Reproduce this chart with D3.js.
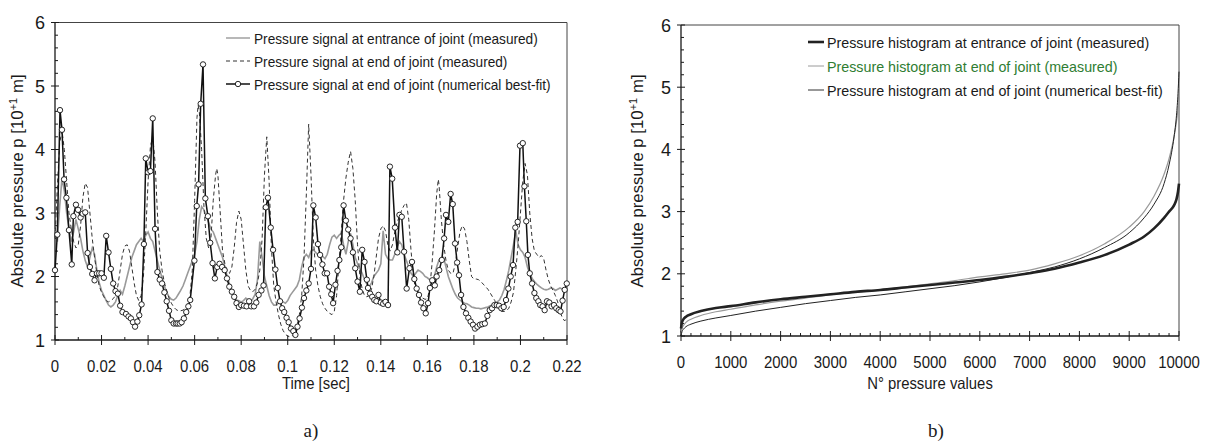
<!DOCTYPE html>
<html><head><meta charset="utf-8">
<script src="https://cdn.jsdelivr.net/npm/d3@7"></script>
<style>
body{margin:0;background:#fff;}
svg text{font-family:"Liberation Sans",Arial,sans-serif;fill:#1a1a1a;}
</style></head>
<body><svg id="c" width="1205" height="444"></svg>
<script>
// ---------- DATA ----------
const timeTicks = [0,0.02,0.04,0.06,0.08,0.1,0.12,0.14,0.16,0.18,0.2,0.22];
const pTicks = [1,2,3,4,5,6];
const countTicks = [0,1000,2000,3000,4000,5000,6000,7000,8000,9000,10000];
const legendA = ["Pressure signal at entrance of joint (measured)","Pressure signal at end of joint (measured)","Pressure signal at end of joint (numerical best-fit)"];
const legendB = ["Pressure histogram at entrance of joint (measured)","Pressure histogram at end of joint (measured)","Pressure histogram at end of joint (numerical best-fit)"];

// entrance measured [t, p]
const entrance = [[0,2.75],[0.001,2.55],[0.002,3.1],[0.003,3.55],[0.004,3.35],[0.005,3.0],[0.006,2.75],[0.007,2.55],[0.008,2.7],[0.009,2.9],[0.010,2.75],[0.011,2.6],[0.012,2.4],[0.013,2.25],[0.014,2.15],[0.015,2.3],[0.016,2.45],[0.017,2.35],[0.018,2.1],[0.019,1.9],[0.020,1.78],[0.021,1.7],[0.022,1.62],[0.023,1.55],[0.024,1.52],[0.025,1.55],[0.026,1.6],[0.027,1.7],[0.028,1.78],[0.029,1.72],[0.030,1.85],[0.031,2.0],[0.032,2.15],[0.033,2.3],[0.034,2.4],[0.035,2.5],[0.036,2.55],[0.037,2.6],[0.038,2.55],[0.039,2.65],[0.040,2.7],[0.041,2.6],[0.042,2.55],[0.043,2.4],[0.044,2.25],[0.045,2.1],[0.046,1.98],[0.047,1.85],[0.048,1.75],[0.049,1.68],[0.050,1.64],[0.051,1.63],[0.052,1.66],[0.053,1.72],[0.054,1.78],[0.055,1.85],[0.056,1.95],[0.057,2.05],[0.058,2.15],[0.059,2.25],[0.060,2.35],[0.061,2.55],[0.062,2.9],[0.063,3.1],[0.064,3.05],[0.065,2.95],[0.066,2.85],[0.067,2.75],[0.068,2.7],[0.069,2.6],[0.070,2.5],[0.071,2.4],[0.072,2.3],[0.073,2.15],[0.074,2.0],[0.075,1.88],[0.076,1.75],[0.077,1.68],[0.078,1.63],[0.079,1.62],[0.080,1.6],[0.081,1.62],[0.082,1.66],[0.083,1.63],[0.084,1.6],[0.085,1.65],[0.086,1.72],[0.087,1.95],[0.088,2.55],[0.089,2.3],[0.090,2.0],[0.091,1.85],[0.092,1.7],[0.093,1.6],[0.094,1.55],[0.095,1.55],[0.096,1.58],[0.097,1.62],[0.098,1.6],[0.099,1.58],[0.100,1.62],[0.101,1.7],[0.102,1.75],[0.103,1.8],[0.104,1.85],[0.105,1.95],[0.106,2.15],[0.107,2.3],[0.108,2.35],[0.109,2.3],[0.110,2.4],[0.111,2.42],[0.112,2.38],[0.113,2.34],[0.114,2.3],[0.115,2.32],[0.116,2.28],[0.117,2.35],[0.118,2.5],[0.119,2.62],[0.120,2.65],[0.121,2.6],[0.122,2.65],[0.123,2.68],[0.124,2.5],[0.125,2.35],[0.126,2.55],[0.127,2.68],[0.128,2.5],[0.129,2.3],[0.130,2.2],[0.131,2.12],[0.132,2.05],[0.133,1.95],[0.134,1.88],[0.135,1.84],[0.136,1.9],[0.137,2.0],[0.138,2.05],[0.139,2.1],[0.140,2.2],[0.141,2.72],[0.142,2.35],[0.143,2.28],[0.144,2.26],[0.145,2.26],[0.146,2.35],[0.147,2.47],[0.148,2.55],[0.149,2.5],[0.150,2.35],[0.151,2.25],[0.152,2.15],[0.153,2.05],[0.154,2.0],[0.155,2.05],[0.156,2.1],[0.157,2.08],[0.158,2.05],[0.159,2.0],[0.160,1.98],[0.161,1.95],[0.162,1.94],[0.163,2.0],[0.164,2.15],[0.165,2.26],[0.166,2.28],[0.167,2.3],[0.168,2.15],[0.169,2.0],[0.170,1.9],[0.171,1.8],[0.172,1.72],[0.173,1.66],[0.174,1.63],[0.175,1.6],[0.176,1.58],[0.177,1.57],[0.178,1.55],[0.179,1.52],[0.180,1.51],[0.181,1.5],[0.182,1.5],[0.183,1.49],[0.184,1.5],[0.185,1.51],[0.186,1.52],[0.187,1.54],[0.188,1.55],[0.189,1.57],[0.190,1.6],[0.191,1.63],[0.192,1.7],[0.193,1.8],[0.194,1.94],[0.195,2.1],[0.196,2.3],[0.197,2.5],[0.198,2.72],[0.199,2.5],[0.200,2.42],[0.201,2.38],[0.202,2.3],[0.203,2.15],[0.204,2.05],[0.205,1.97],[0.206,1.92],[0.207,1.88],[0.208,1.85],[0.209,1.82],[0.210,1.8],[0.211,1.79],[0.212,1.8],[0.213,1.82],[0.214,1.81],[0.215,1.78],[0.216,1.8],[0.217,1.82],[0.218,1.8],[0.219,1.82],[0.220,1.84]];

// end of joint measured [t, p]
const endMeasured = [[0,2.6],[0.001,3.4],[0.002,4.1],[0.003,4.3],[0.004,4.0],[0.005,3.5],[0.006,3.0],[0.007,2.75],[0.008,2.55],[0.009,2.45],[0.010,2.5],[0.011,2.8],[0.012,3.25],[0.013,3.47],[0.014,3.4],[0.015,3.0],[0.016,2.6],[0.017,2.3],[0.018,2.05],[0.019,1.85],[0.020,1.75],[0.021,1.68],[0.022,1.62],[0.023,1.6],[0.024,1.62],[0.025,1.65],[0.026,1.7],[0.027,1.85],[0.028,2.1],[0.029,2.35],[0.030,2.48],[0.031,2.5],[0.032,2.4],[0.033,2.15],[0.034,1.9],[0.035,1.7],[0.036,1.62],[0.037,1.7],[0.038,2.0],[0.039,2.7],[0.040,3.5],[0.041,4.05],[0.042,4.2],[0.043,3.8],[0.044,3.0],[0.045,2.4],[0.046,2.1],[0.047,1.9],[0.048,1.78],[0.049,1.66],[0.050,1.58],[0.051,1.52],[0.052,1.48],[0.053,1.46],[0.054,1.46],[0.055,1.47],[0.056,1.5],[0.057,1.56],[0.058,1.7],[0.059,2.1],[0.060,3.2],[0.061,4.5],[0.0615,4.7],[0.062,4.6],[0.063,4.0],[0.064,3.1],[0.065,2.6],[0.066,2.45],[0.067,2.6],[0.068,3.2],[0.069,3.6],[0.0695,3.7],[0.070,3.6],[0.071,3.0],[0.072,2.4],[0.073,2.2],[0.074,2.08],[0.075,2.05],[0.076,2.15],[0.077,2.45],[0.078,2.85],[0.079,3.03],[0.080,2.9],[0.081,2.5],[0.082,2.1],[0.083,1.85],[0.084,1.78],[0.085,1.76],[0.086,1.8],[0.087,1.9],[0.088,2.1],[0.089,2.6],[0.090,3.6],[0.091,4.2],[0.092,3.5],[0.093,2.45],[0.094,1.85],[0.095,1.6],[0.096,1.4],[0.097,1.25],[0.098,1.15],[0.099,1.09],[0.100,1.06],[0.101,1.05],[0.102,1.07],[0.103,1.12],[0.104,1.22],[0.105,1.4],[0.106,1.7],[0.107,2.3],[0.108,3.3],[0.109,4.4],[0.110,3.6],[0.111,2.6],[0.112,2.1],[0.113,1.85],[0.114,1.68],[0.115,1.57],[0.116,1.5],[0.117,1.45],[0.118,1.42],[0.119,1.4],[0.120,1.45],[0.121,1.7],[0.122,2.2],[0.123,2.7],[0.124,3.2],[0.125,3.55],[0.126,3.8],[0.127,3.97],[0.128,3.7],[0.129,3.2],[0.130,2.5],[0.131,2.0],[0.132,1.8],[0.133,1.7],[0.134,1.68],[0.135,1.7],[0.136,1.8],[0.137,2.0],[0.138,2.3],[0.139,2.6],[0.140,2.75],[0.141,2.8],[0.142,2.72],[0.143,2.5],[0.144,2.4],[0.145,2.5],[0.146,2.7],[0.147,2.85],[0.148,2.95],[0.149,3.05],[0.150,3.12],[0.151,3.16],[0.152,2.9],[0.153,2.4],[0.154,2.0],[0.155,1.78],[0.156,1.7],[0.157,1.68],[0.158,1.66],[0.159,1.64],[0.160,1.65],[0.161,1.8],[0.162,2.2],[0.163,2.7],[0.164,3.3],[0.1647,3.53],[0.165,3.45],[0.166,2.9],[0.167,2.5],[0.168,2.25],[0.169,2.1],[0.170,2.05],[0.171,2.05],[0.172,2.2],[0.173,2.45],[0.174,2.7],[0.175,2.8],[0.176,2.75],[0.177,2.55],[0.178,2.25],[0.179,2.0],[0.180,1.96],[0.181,1.96],[0.182,1.95],[0.183,1.92],[0.184,1.88],[0.185,1.84],[0.186,1.8],[0.187,1.74],[0.188,1.68],[0.189,1.62],[0.190,1.52],[0.191,1.47],[0.192,1.45],[0.193,1.45],[0.194,1.46],[0.195,1.5],[0.196,1.6],[0.197,1.75],[0.198,2.1],[0.199,2.5],[0.200,3.0],[0.201,3.5],[0.202,3.78],[0.203,3.6],[0.204,3.0],[0.205,2.6],[0.206,2.4],[0.207,2.35],[0.208,2.3],[0.209,2.33],[0.210,2.28],[0.211,2.1],[0.212,1.95],[0.213,1.85],[0.214,1.78],[0.215,1.7],[0.216,1.6],[0.217,1.45],[0.218,1.35],[0.219,1.3],[0.220,1.35]];

// numerical best-fit [t, p]
const bestFit = [[0,2.1],[0.001,2.66],[0.00215,4.62],[0.003,4.31],[0.0039,3.53],[0.0049,3.24],[0.006,2.73],[0.0072,2.19],[0.0079,2.95],[0.009,3.13],[0.0099,3.05],[0.011,2.93],[0.0119,2.99],[0.013,3.01],[0.014,2.37],[0.015,2.15],[0.016,2.04],[0.017,1.94],[0.018,2.05],[0.019,2.05],[0.020,2.05],[0.021,1.98],[0.022,2.64],[0.023,2.38],[0.024,2.12],[0.025,1.89],[0.026,1.77],[0.027,1.73],[0.028,1.54],[0.029,1.44],[0.0305,1.41],[0.0316,1.37],[0.0326,1.34],[0.0335,1.28],[0.0344,1.21],[0.0354,1.29],[0.0362,1.39],[0.0372,1.56],[0.0382,2.51],[0.039,3.86],[0.040,3.64],[0.041,3.66],[0.042,4.49],[0.043,2.75],[0.044,2.07],[0.045,1.95],[0.046,1.89],[0.047,1.75],[0.048,1.61],[0.049,1.46],[0.050,1.31],[0.051,1.26],[0.052,1.26],[0.0527,1.26],[0.0536,1.26],[0.0544,1.28],[0.0554,1.34],[0.0564,1.44],[0.0573,1.53],[0.0581,1.63],[0.0599,2.25],[0.0609,3.11],[0.0617,3.45],[0.0626,4.72],[0.0636,5.34],[0.0646,3.23],[0.0657,2.95],[0.0667,2.53],[0.0677,2.21],[0.0687,1.97],[0.0697,2.15],[0.0707,2.2],[0.0718,2.15],[0.0729,2.1],[0.0739,1.97],[0.0749,1.84],[0.076,1.76],[0.077,1.68],[0.078,1.58],[0.079,1.52],[0.080,1.55],[0.0812,1.54],[0.0823,1.53],[0.0834,1.61],[0.0843,1.53],[0.0855,1.53],[0.0865,1.59],[0.0875,1.71],[0.0887,1.78],[0.0896,1.86],[0.0906,3.09],[0.0915,3.24],[0.0927,2.77],[0.0937,2.42],[0.0947,2.11],[0.0957,1.82],[0.0967,1.61],[0.0976,1.5],[0.0985,1.44],[0.0995,1.35],[0.1004,1.28],[0.1014,1.18],[0.1024,1.14],[0.1033,1.08],[0.1042,1.21],[0.1051,1.34],[0.1061,1.51],[0.107,1.66],[0.108,1.78],[0.109,1.89],[0.110,2.12],[0.111,3.12],[0.112,2.93],[0.113,2.51],[0.1139,2.34],[0.1149,2.19],[0.1159,2.05],[0.1169,2.05],[0.1178,1.84],[0.1187,1.72],[0.1195,1.58],[0.1205,1.87],[0.1214,2.09],[0.1222,2.26],[0.123,2.46],[0.124,3.12],[0.125,2.88],[0.126,2.74],[0.127,2.6],[0.128,2.38],[0.129,2.13],[0.130,1.92],[0.131,1.76],[0.132,2.42],[0.133,2.23],[0.134,1.95],[0.1345,1.82],[0.1354,1.73],[0.1363,1.68],[0.1372,1.63],[0.1381,1.61],[0.139,1.71],[0.140,1.59],[0.141,1.57],[0.142,1.6],[0.1431,1.55],[0.1439,3.73],[0.1449,3.54],[0.1461,2.77],[0.1471,2.38],[0.148,2.97],[0.149,2.94],[0.150,2.39],[0.1511,1.81],[0.1523,2.13],[0.1534,2.23],[0.1544,1.96],[0.1554,1.81],[0.1564,1.71],[0.1573,1.59],[0.1583,1.5],[0.1593,1.42],[0.1603,1.58],[0.1611,1.82],[0.1621,1.94],[0.1632,1.86],[0.164,2.0],[0.1651,2.1],[0.1662,2.26],[0.1672,2.6],[0.168,2.97],[0.169,2.86],[0.170,3.3],[0.1709,3.14],[0.1719,2.52],[0.1728,2.22],[0.1736,2.02],[0.1745,1.71],[0.1755,1.52],[0.1766,1.42],[0.1776,1.35],[0.1786,1.29],[0.1796,1.24],[0.1805,1.18],[0.1815,1.21],[0.1826,1.24],[0.1836,1.25],[0.1847,1.26],[0.1858,1.38],[0.1868,1.47],[0.1878,1.5],[0.1888,1.55],[0.1898,1.55],[0.1908,1.54],[0.1918,1.5],[0.1928,1.52],[0.1938,1.63],[0.1948,1.81],[0.1958,2.0],[0.1968,2.18],[0.1978,2.77],[0.1988,2.86],[0.1998,4.06],[0.201,4.1],[0.2017,3.42],[0.2025,2.87],[0.2032,2.34],[0.204,2.05],[0.205,1.89],[0.206,1.74],[0.2068,1.66],[0.2077,1.61],[0.2085,1.55],[0.2095,1.53],[0.2104,1.47],[0.2114,1.61],[0.2124,1.59],[0.2134,1.53],[0.2144,1.55],[0.2154,1.5],[0.2164,1.47],[0.2172,1.45],[0.2181,1.62],[0.219,1.79],[0.2199,1.89]];

// histograms (sorted values) : N° index and pressure
const histN =        [0,   20,  50,  100, 200, 400, 700, 1000,1500,2000,2500,3000,3500,4000,4500,5000,5500,6000,6500,7000,7500,8000,8500,9000,9300,9500,9700,9800,9900,9950,9980,10000];
const histEntrance = [1.12,1.22,1.27,1.31,1.35,1.40,1.45,1.48,1.54,1.59,1.63,1.67,1.71,1.74,1.78,1.82,1.86,1.90,1.95,2.01,2.08,2.18,2.30,2.47,2.60,2.73,2.90,3.00,3.10,3.20,3.32,3.45];
const histEnd =      [1.02,1.12,1.17,1.22,1.27,1.33,1.39,1.43,1.50,1.56,1.61,1.66,1.70,1.74,1.79,1.84,1.89,1.95,2.00,2.06,2.16,2.29,2.48,2.75,3.00,3.25,3.60,3.85,4.20,4.45,4.65,4.85];
const histFit =      [1.00,1.07,1.11,1.15,1.19,1.24,1.29,1.33,1.40,1.46,1.52,1.57,1.62,1.66,1.71,1.76,1.81,1.87,1.94,2.02,2.11,2.24,2.42,2.66,2.90,3.12,3.45,3.75,4.20,4.55,4.90,5.25];

// ---------- DRAW ----------
const svg = d3.select("#c");
const ink = "#1a1a1a";

// narrow the glyphs of a text selection horizontally (the reference font is condensed)
function condense(sel, f){
  sel.each(function(){
    const L = this.getComputedTextLength();
    d3.select(this).attr("textLength", L*f).attr("lengthAdjust","spacingAndGlyphs");
  });
  return sel;
}

function frame(g, x, y, xTicks, xMinor, yMinor, fmt){
  const [x0,x1] = x.range(), [y0,y1] = y.range();
  g.append("path").attr("d",`M${x0},${y1}H${x1}V${y0}`).attr("fill","none").attr("stroke","#444").attr("stroke-width",1);
  g.append("line").attr("x1",x0).attr("x2",x1).attr("y1",y0).attr("y2",y0).attr("stroke",ink).attr("stroke-width",1.3);
  g.append("line").attr("x1",x0).attr("x2",x0).attr("y1",y0).attr("y2",y1).attr("stroke",ink).attr("stroke-width",1.3);
  g.selectAll(null).data(xMinor).join("line").attr("x1",d=>x(d)).attr("x2",d=>x(d)).attr("y1",y0-3).attr("y2",y0).attr("stroke",ink);
  g.selectAll(null).data(xTicks).join("line").attr("x1",d=>x(d)).attr("x2",d=>x(d)).attr("y1",y0-5).attr("y2",y0+5).attr("stroke",ink);
  condense(g.selectAll(null).data(xTicks).join("text").attr("x",d=>x(d)).attr("y",y0+32).attr("text-anchor","middle").style("font-size","17px").text(fmt), 0.88);
  g.selectAll(null).data(yMinor).join("line").attr("x1",x0).attr("x2",x0+3).attr("y1",d=>y(d)).attr("y2",d=>y(d)).attr("stroke",ink);
  g.selectAll(null).data(pTicks).join("line").attr("x1",x0-4).attr("x2",x0+4).attr("y1",d=>y(d)).attr("y2",d=>y(d)).attr("stroke",ink);
  g.selectAll(null).data(pTicks).join("text").attr("x",x0-10).attr("y",d=>y(d)+6.5).attr("text-anchor","end").style("font-size","18px").text(d=>d);
}

function yLabel(g, cx, cy){
  const t = g.append("text").attr("transform",`translate(${cx},${cy}) rotate(-90)`).attr("text-anchor","middle").style("font-size","16.8px");
  t.append("tspan").text("Absolute pressure p [10");
  t.append("tspan").attr("dy",-6).style("font-size","11px").text("+1");
  t.append("tspan").attr("dy",6).text(" m]");
}

const yMinorVals = d3.range(1,6.001,0.2).filter(v=>Math.abs(v-Math.round(v))>1e-6);

// ----- panel a -----
const xa = d3.scaleLinear().domain([0,0.22]).range([55,567]);
const ya = d3.scaleLinear().domain([1,6]).range([340,22.5]);
const ga = svg.append("g");
frame(ga, xa, ya, timeTicks, d3.range(0.01,0.22,0.02), yMinorVals, d=>d===0?"0":String(+d.toFixed(2)));
yLabel(ga, 23, 181);
condense(ga.append("text").attr("x",316).attr("y",389).attr("text-anchor","middle").style("font-size","16.5px").text("Time [sec]"), 0.9);
ga.append("text").attr("x",311).attr("y",437).attr("text-anchor","middle").style("font-family","'Liberation Serif',serif").style("font-size","19px").text("a)");

const la = d3.line().x(d=>xa(d[0])).y(d=>ya(d[1]));
ga.append("path").datum(entrance).attr("d",la).attr("fill","none").attr("stroke","#9a9a9a").attr("stroke-width",1.6);
ga.append("path").datum(endMeasured).attr("d",la).attr("fill","none").attr("stroke","#333").attr("stroke-width",1).attr("stroke-dasharray","4,3");
ga.append("path").datum(bestFit).attr("d",la).attr("fill","none").attr("stroke","#111").attr("stroke-width",1.5);
ga.selectAll(null).data(bestFit).join("circle").attr("cx",d=>xa(d[0])).attr("cy",d=>ya(d[1])).attr("r",2.7).attr("fill","#fff").attr("stroke","#111").attr("stroke-width",0.9);

// legend a
const legY = [38,61,84];
const lgA = ga.append("g");
lgA.append("line").attr("x1",226).attr("x2",250).attr("y1",legY[0]).attr("y2",legY[0]).attr("stroke","#888").attr("stroke-width",1.2);
lgA.append("line").attr("x1",226).attr("x2",250).attr("y1",legY[1]).attr("y2",legY[1]).attr("stroke","#333").attr("stroke-dasharray","4,3");
lgA.append("line").attr("x1",226).attr("x2",250).attr("y1",legY[2]).attr("y2",legY[2]).attr("stroke","#111").attr("stroke-width",1.5);
lgA.append("circle").attr("cx",238).attr("cy",legY[2]).attr("r",2.7).attr("fill","#fff").attr("stroke","#111").attr("stroke-width",0.9);
condense(lgA.selectAll(null).data(legendA).join("text").attr("x",254).attr("y",(d,i)=>legY[i]+5.5).style("font-size","15px").text(d=>d), 0.91);

// ----- panel b -----
const xb = d3.scaleLinear().domain([0,10000]).range([681,1179]);
const yb = d3.scaleLinear().domain([1,6]).range([336,25]);
const gb = svg.append("g");
frame(gb, xb, yb, countTicks, d3.range(200,10000,200).filter(v=>v%1000!==0), yMinorVals, d=>String(d));
yLabel(gb, 643, 181);
condense(gb.append("text").attr("x",930).attr("y",389).attr("text-anchor","middle").style("font-size","16.5px").text("N° pressure values"), 0.9);
gb.append("text").attr("x",936).attr("y",437).attr("text-anchor","middle").style("font-family","'Liberation Serif',serif").style("font-size","19px").text("b)");

const lb = (vals)=> d3.line().curve(d3.curveMonotoneX).x((d,i)=>xb(histN[i])).y(d=>yb(d))(vals);
gb.append("path").attr("d",lb(histEnd)).attr("fill","none").attr("stroke","#9a9a9a").attr("stroke-width",1.2);
gb.append("path").attr("d",lb(histFit)).attr("fill","none").attr("stroke","#222").attr("stroke-width",1);
gb.append("path").attr("d",lb(histEntrance)).attr("fill","none").attr("stroke","#222").attr("stroke-width",2.6);

const legYb = [42,66,90];
const lgB = gb.append("g");
lgB.append("line").attr("x1",808).attr("x2",824).attr("y1",legYb[0]).attr("y2",legYb[0]).attr("stroke","#222").attr("stroke-width",2.6);
lgB.append("line").attr("x1",808).attr("x2",824).attr("y1",legYb[1]).attr("y2",legYb[1]).attr("stroke","#9a9a9a").attr("stroke-width",1);
lgB.append("line").attr("x1",808).attr("x2",824).attr("y1",legYb[2]).attr("y2",legYb[2]).attr("stroke","#333").attr("stroke-width",1);
condense(lgB.selectAll(null).data(legendB).join("text").attr("x",827).attr("y",(d,i)=>legYb[i]+5.5).style("font-size","14.8px").style("fill",(d,i)=>i===1?"#2f7d32":"#1a1a1a").text(d=>d), 0.965);
</script></body></html>
